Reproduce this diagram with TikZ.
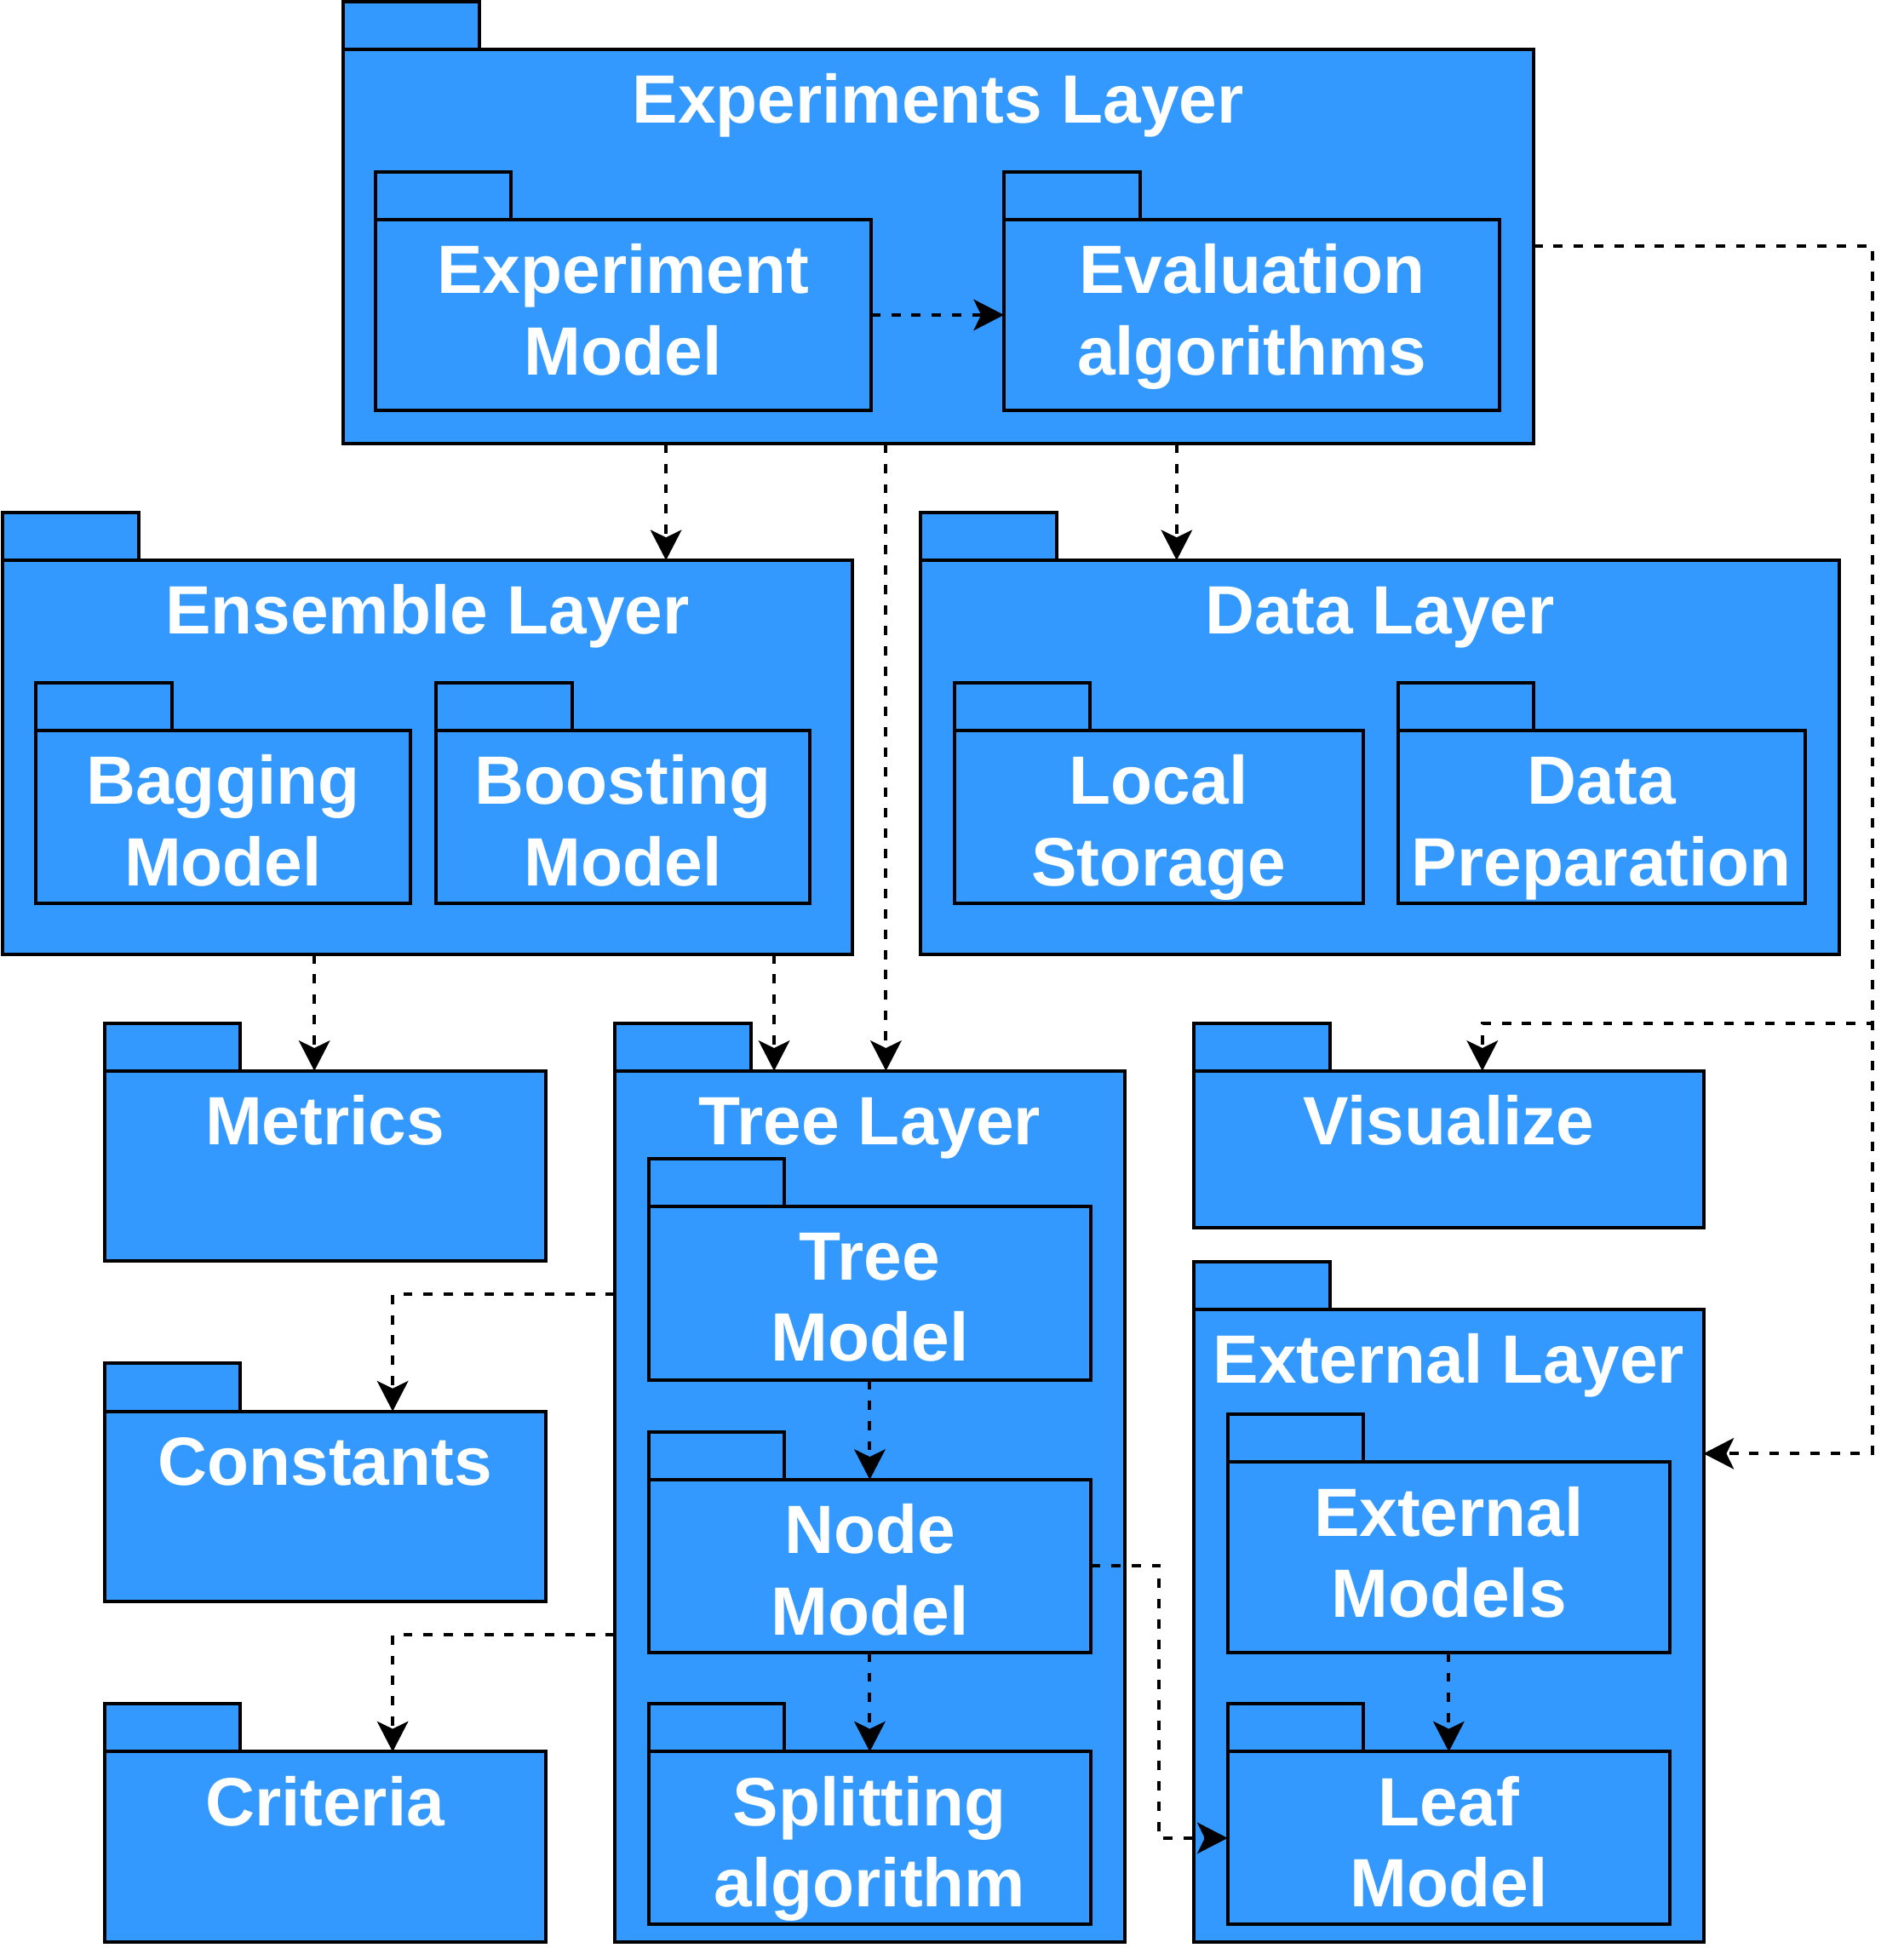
\documentclass[tikz,border=0pt]{standalone}
\usepackage{fontspec}
\setmainfont{Liberation Sans}
\usetikzlibrary{fit,arrows.meta,calc}
\definecolor{pkgblue}{RGB}{51,153,255}
\newcommand{\pkgbox}[6]{%
  \node[pkgtab, fit={(#2,#3-38.5) (#2+109.5,#3)}] (#1-tab) {};
  \node[pkgbody, fit={(#2,#3) (#4,#5)}] (#1) {};
  \node[lbl] (#1-lbl) at ([yshift=-29.65pt]#1.north) {\begin{tabular}[t]{@{}c@{}}#6\end{tabular}};
}
\begin{document}
\begin{tikzpicture}[x=0.5pt,y=-0.5pt,
  pkgbody/.style={draw=black, fill=pkgblue, line width=1.37pt, inner sep=0pt, outer sep=0pt},
  pkgtab/.style={draw=black, fill=pkgblue, line width=1.37pt, inner sep=0pt, outer sep=0pt},
  lbl/.style={text=white, font=\bfseries\fontsize{27.5}{32.75}\selectfont, inner sep=0pt, anchor=base},
  conn/.style={draw=black, line width=1.37pt, dash pattern=on 3.75pt off 4.4pt,
    -{Stealth[length=12.2pt,width=12.5pt,inset=3pt]}}
]
\useasboundingbox[fill=white] (0,0) rectangle (1532,1568);

\pkgbox{EL}{276}{40}{1234}{357}{Experiments Layer}
\pkgbox{EM}{302}{177}{701}{330}{Experiment\\Model}
\pkgbox{EA}{808}{177}{1207}{330}{Evaluation\\algorithms}
\pkgbox{EnL}{2}{451}{686}{768}{Ensemble Layer}
\pkgbox{BaM}{29}{588}{330}{727}{Bagging\\Model}
\pkgbox{BoM}{351}{588}{652}{727}{Boosting\\Model}
\pkgbox{DL}{741}{451}{1480}{768}{Data Layer}
\pkgbox{LS}{768}{588}{1097}{727}{Local\\Storage}
\pkgbox{DP}{1125}{588}{1453}{727}{Data\\Preparation}
\pkgbox{Met}{84}{862}{439}{1015}{Metrics}
\pkgbox{TL}{495}{862}{905}{1563}{Tree Layer}
\pkgbox{TM}{522}{971}{878}{1111}{Tree\\Model}
\pkgbox{NM}{522}{1191}{878}{1330}{Node\\Model}
\pkgbox{SA}{522}{1410}{878}{1549}{Splitting\\algorithm}
\pkgbox{Vis}{961}{862}{1371}{988}{Visualize}
\pkgbox{ExL}{961}{1054}{1371}{1563}{External Layer}
\pkgbox{ExM}{988}{1177}{1344}{1330}{External\\Models}
\pkgbox{LM}{988}{1410}{1344}{1549}{Leaf\\Model}
\pkgbox{Con}{84}{1136}{439}{1289}{Constants}
\pkgbox{Cri}{84}{1410}{439}{1563}{Criteria}

\coordinate (c536) at (536,400);
\coordinate (c947) at (947,400);
\coordinate (c713) at (713,600);
\coordinate (c253) at (253,800);
\coordinate (c623) at (623,800);
\coordinate (b1) at (1507,198);
\coordinate (b2) at (1507,824);
\coordinate (b3) at (1193,824);
\coordinate (b4) at (1507,1170);
\coordinate (b5) at (316,1042);
\coordinate (b6) at (316,1316);
\coordinate (b7) at (933,1260);

\draw[conn] (EM.east) -- (EA.west);
\draw[conn] (EL.south -| c536) -- (EnL.north -| c536);
\draw[conn] (EL.south -| c947) -- (DL.north -| c947);
\draw[conn] (EL.south -| c713) -- (TL.north -| c713);
\draw[conn] (EL.east |- b1) -- (b1) -- (b2) -- (b3) -- (Vis.north -| b3);
\draw[conn] (EL.east |- b1) -- (b1) -- (b4) -- (ExL.east |- b4);
\draw[conn] (EnL.south -| c253) -- (Met.north -| c253);
\draw[conn] (EnL.south -| c623) -- (TL.north -| c623);
\draw[conn] (TL.west |- b5) -- (b5) -- (Con.north -| b5);
\draw[conn] (TL.west |- b6) -- (b6) -- (Cri.north -| b6);
\draw[conn] (TM.south) -- (NM.north);
\draw[conn] (NM.south) -- (SA.north);
\draw[conn] (NM.east) -- (NM.east -| b7) -- (b7 |- LM.west) -- (LM.west);
\draw[conn] (ExM.south) -- (LM.north);
\end{tikzpicture}
\end{document}
